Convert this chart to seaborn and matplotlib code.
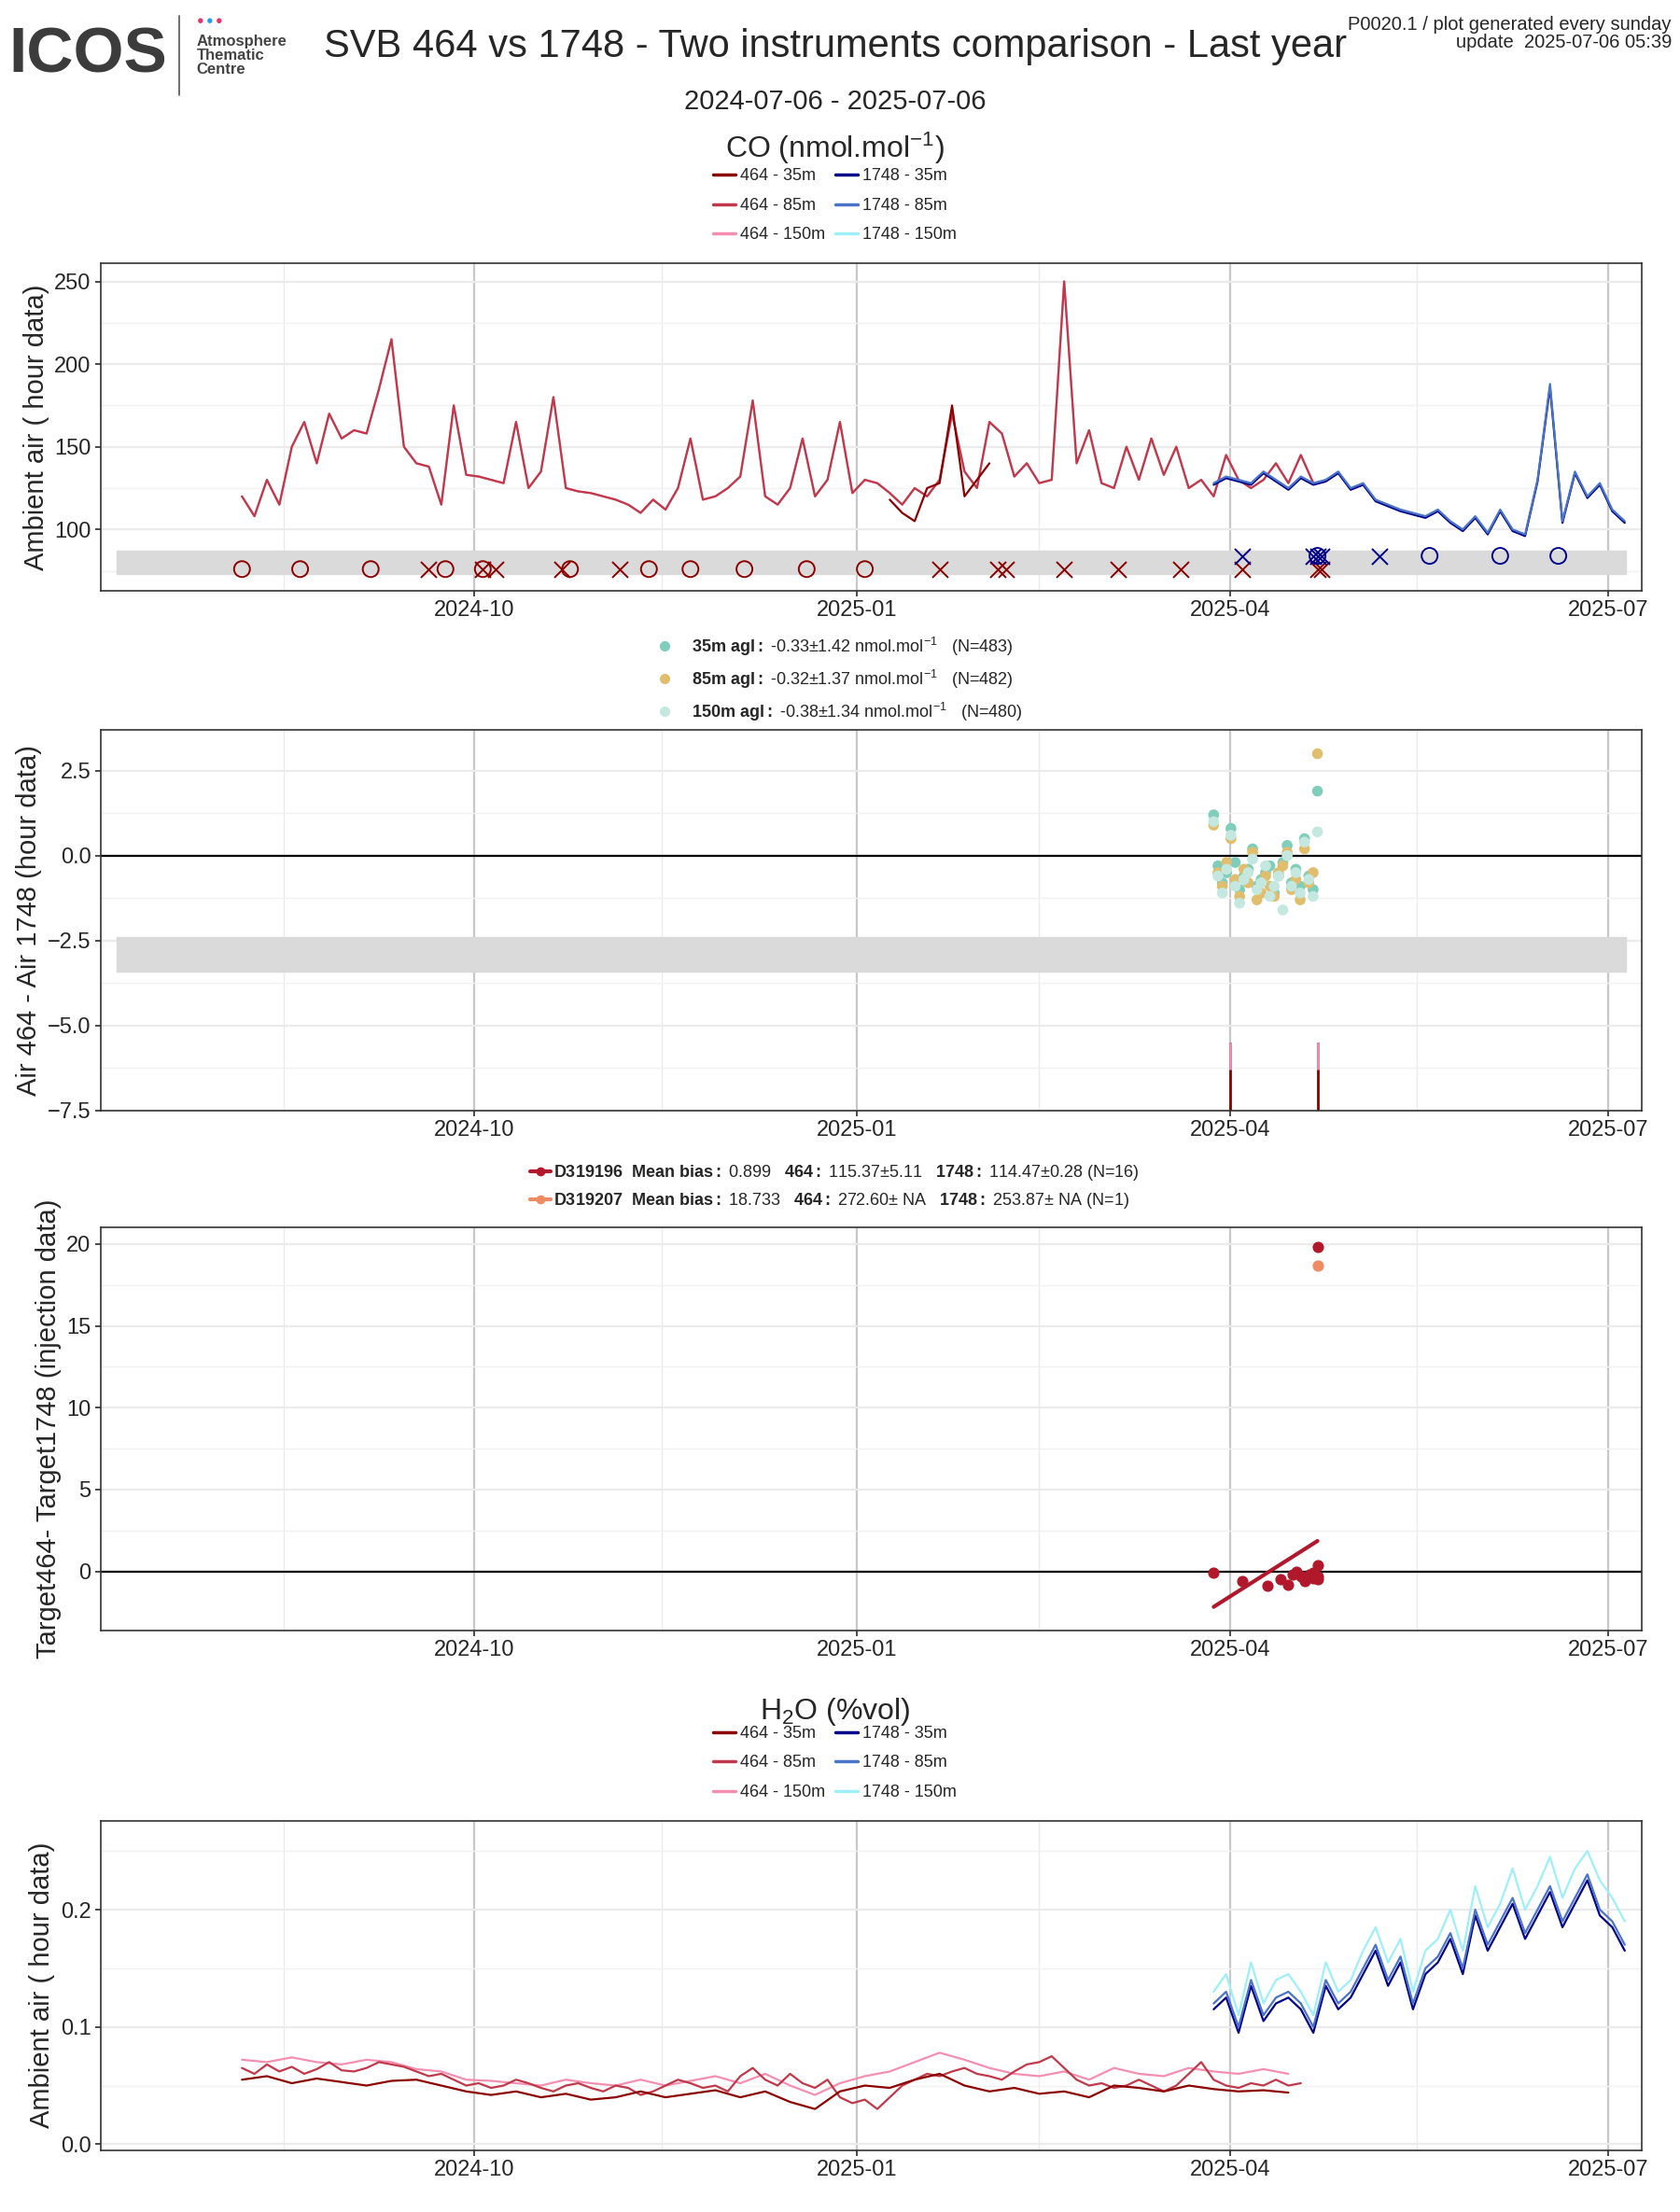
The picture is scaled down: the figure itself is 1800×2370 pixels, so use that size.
import matplotlib
matplotlib.use("Agg")
import matplotlib.pyplot as plt
import matplotlib.dates as mdates
from matplotlib.lines import Line2D
import seaborn as sns
import pandas as pd
import numpy as np

sns.set_theme(style="whitegrid")
plt.rcParams['font.family'] = ['Liberation Sans', 'DejaVu Sans']
plt.rcParams['mathtext.fontset'] = 'custom'
plt.rcParams['mathtext.rm'] = 'Liberation Sans'
plt.rcParams['mathtext.it'] = 'Liberation Sans:italic'
plt.rcParams['mathtext.bf'] = 'Liberation Sans:bold'

# ---------------- data ----------------
co_464_85 = [120, 108, 130, 115, 150, 165, 140, 170, 155, 160, 158, 185, 215, 150, 140, 138, 115, 175, 133,
             132, 130, 128, 165, 125, 135, 180, 125, 123, 122, 120, 118, 115, 110, 118, 112, 125, 155, 118,
             120, 125, 132, 178, 120, 115, 125, 155, 120, 130, 165, 122, 130, 128, 122, 115, 125, 120, 130,
             170, 135, 125, 165, 158, 132, 140, 128, 130, 250, 140, 160, 128, 125, 150, 130, 155, 133, 150,
             125, 130, 120, 145, 130, 125, 130, 140, 128, 145, 128]
co_464_35 = [118, 110, 105, 125, 128, 175, 120, 130, 140]
co_1748_85 = [128, 132, 130, 128, 135, 130, 125, 132, 128, 130, 135, 125, 128, 118, 115, 112, 110, 108, 112,
              105, 100, 108, 98, 112, 100, 97, 130, 188, 105, 135, 120, 128, 112, 105]
co_1748_35 = [127, 131, 129, 127, 134, 129, 124, 131, 127, 129, 134, 124, 127, 117, 114, 111, 109, 107, 111,
              104, 99, 107, 97, 111, 99, 96, 129, 186, 104, 134, 119, 127, 111, 104]

flag_464_circle = ['2024-08-06', '2024-08-20', '2024-09-06', '2024-09-24', '2024-10-03', '2024-10-24',
                   '2024-11-12', '2024-11-22', '2024-12-05', '2024-12-20', '2025-01-03']
flag_464_cross = ['2024-09-20', '2024-10-03', '2024-10-06', '2024-10-22', '2024-11-05', '2025-01-21',
                  '2025-02-04', '2025-02-06', '2025-02-20', '2025-03-05', '2025-03-20', '2025-04-04',
                  '2025-04-22', '2025-04-23']
flag_1748_cross = ['2025-04-04', '2025-04-21', '2025-04-22', '2025-04-23', '2025-05-07']
flag_1748_circle = ['2025-04-22', '2025-05-19', '2025-06-05', '2025-06-19']

diff_35 = [1.2, -0.3, -0.8, -0.5, 0.8, -0.2, -1.0, -0.6, -0.4, 0.2, -0.9, -0.7, -0.5, -0.3, -1.1,
           -0.6, -0.2, 0.3, -0.8, -0.4, -0.9, 0.5, -0.6, -1.0, 1.9]
diff_85 = [0.9, -0.5, -0.9, -0.2, 0.5, -0.7, -1.2, -0.4, -0.8, 0.1, -1.3, -1.1, -0.6, -0.9, -1.2,
           -0.5, -0.3, 0.1, -1.0, -0.7, -1.3, 0.2, -0.8, -0.5, 3.0]
diff_150 = [1.0, -0.6, -1.1, -0.4, 0.6, -0.9, -1.4, -0.7, -0.5, -0.1, -1.0, -0.8, -0.3, -1.2, -0.9,
            -0.6, -1.6, 0.0, -0.9, -0.5, -1.1, 0.4, -0.7, -1.2, 0.7]
flag_diff_dates = ['2025-04-01', '2025-04-22']

tgt_dates = ['2025-03-28', '2025-04-04', '2025-04-10', '2025-04-13', '2025-04-15', '2025-04-16',
             '2025-04-17', '2025-04-18', '2025-04-19', '2025-04-20', '2025-04-21', '2025-04-21',
             '2025-04-22', '2025-04-22', '2025-04-22', '2025-04-22']
tgt_196 = [-0.1, -0.6, -0.9, -0.5, -0.8, -0.2, 0.0, -0.3, -0.6, -0.2, -0.4, -0.1, -0.3, -0.5, 0.4, 19.8]
tgt_207_dates = ['2025-04-22']
tgt_207 = [18.7]

h2o_464_85 = [0.065, 0.06, 0.068, 0.062, 0.066, 0.06, 0.064, 0.07, 0.063, 0.062, 0.065, 0.07, 0.068, 0.066,
              0.062, 0.058, 0.06, 0.055, 0.05, 0.052, 0.048, 0.05, 0.055, 0.052, 0.048, 0.045, 0.05, 0.052,
              0.048, 0.045, 0.05, 0.048, 0.042, 0.045, 0.05, 0.055, 0.052, 0.048, 0.05, 0.045, 0.058, 0.065,
              0.055, 0.05, 0.06, 0.052, 0.048, 0.055, 0.04, 0.035, 0.038, 0.03, 0.04, 0.05, 0.055, 0.06,
              0.058, 0.062, 0.065, 0.06, 0.058, 0.055, 0.062, 0.068, 0.07, 0.075, 0.065, 0.055, 0.05, 0.052,
              0.048, 0.05, 0.055, 0.05, 0.045, 0.05, 0.06, 0.07, 0.055, 0.05, 0.048, 0.052, 0.05, 0.055,
              0.05, 0.052]
h2o_464_35 = [0.055, 0.058, 0.052, 0.056, 0.053, 0.05, 0.054, 0.055, 0.05, 0.045, 0.042, 0.045, 0.04, 0.043,
              0.038, 0.04, 0.045, 0.04, 0.043, 0.046, 0.04, 0.045, 0.036, 0.03, 0.045, 0.05, 0.048, 0.055,
              0.06, 0.05, 0.045, 0.048, 0.043, 0.045, 0.04, 0.05, 0.048, 0.045, 0.05, 0.047, 0.045, 0.046, 0.044]
h2o_464_150 = [0.072, 0.07, 0.074, 0.07, 0.068, 0.072, 0.07, 0.064, 0.062, 0.055, 0.054, 0.052, 0.05, 0.055,
               0.052, 0.05, 0.055, 0.05, 0.054, 0.058, 0.052, 0.06, 0.05, 0.042, 0.052, 0.058, 0.062, 0.07,
               0.078, 0.072, 0.065, 0.06, 0.058, 0.062, 0.055, 0.065, 0.06, 0.058, 0.065, 0.062, 0.06, 0.064, 0.06]
h2o_1748_85 = [0.12, 0.13, 0.1, 0.14, 0.11, 0.125, 0.13, 0.12, 0.1, 0.14, 0.12, 0.13, 0.15, 0.17, 0.14, 0.16,
               0.12, 0.15, 0.16, 0.18, 0.15, 0.2, 0.17, 0.19, 0.21, 0.18, 0.2, 0.22, 0.19, 0.21, 0.23, 0.2,
               0.19, 0.17]
h2o_1748_35 = [0.115, 0.125, 0.095, 0.135, 0.105, 0.12, 0.125, 0.115, 0.095, 0.135, 0.115, 0.125, 0.145,
               0.165, 0.135, 0.155, 0.115, 0.145, 0.155, 0.175, 0.145, 0.195, 0.165, 0.185, 0.205, 0.175,
               0.195, 0.215, 0.185, 0.205, 0.225, 0.195, 0.185, 0.165]
h2o_1748_150 = [0.13, 0.145, 0.11, 0.155, 0.12, 0.14, 0.145, 0.13, 0.11, 0.155, 0.13, 0.14, 0.165, 0.185,
                0.155, 0.175, 0.13, 0.165, 0.175, 0.2, 0.165, 0.22, 0.185, 0.205, 0.235, 0.2, 0.22, 0.245,
                0.21, 0.235, 0.25, 0.225, 0.21, 0.19]

C464 = ['#8B0000', '#C0394B', '#F48FB1']
C1748 = ['#00008B', '#4A74C8', '#9EEFFA']
CD = ['#7FCDBB', '#E0BE6E', '#C4E8DF']

def dr(start, n, freq='3D'):
    return pd.date_range(start, periods=n, freq=freq)

# ---------------- figure ----------------
fig = plt.figure(figsize=(18, 23.7), dpi=100)
L, R = 0.06, 0.977
axes = [fig.add_axes([L, b, R - L, t - b]) for b, t in
        [(0.733, 0.881), (0.498, 0.670), (0.263, 0.445), (0.028, 0.177)]]
xmin, xmax = pd.Timestamp('2024-07-03'), pd.Timestamp('2025-07-09')
majors = pd.to_datetime(['2024-10-01', '2025-01-01', '2025-04-01', '2025-07-01'])
minors = pd.to_datetime(['2024-08-16', '2024-11-15', '2025-02-14', '2025-05-16'])

def style(ax):
    ax.set_facecolor('white')
    ax.set_xlim(xmin, xmax)
    ax.set_xticks(majors)
    ax.xaxis.set_major_formatter(mdates.DateFormatter('%Y-%m'))
    ax.set_xticks(minors, minor=True)
    ax.grid(True, which='major', axis='x', color='#C8C8C8', lw=1.6)
    ax.grid(True, which='minor', axis='x', color='#EBEBEB', lw=1.0)
    ax.grid(True, which='major', axis='y', color='#EBEBEB', lw=1.6)
    ax.grid(True, which='minor', axis='y', color='#F2F2F2', lw=1.0)
    for s in ax.spines.values():
        s.set_color('#333333'); s.set_linewidth(1.2)
    ax.tick_params(axis='both', labelsize=17, length=4, color='#333333', bottom=True, left=True)
    ax.set_xlabel('')

# Panel 1: CO
ax = axes[0]
ax.axhspan(73, 87, xmin=0.01, xmax=0.99, color='#DADADA', zorder=1)
sns.lineplot(x=dr('2024-08-06', len(co_464_85)), y=co_464_85, color=C464[2], lw=1.6, ax=ax)
sns.lineplot(x=dr('2024-08-06', len(co_464_85)), y=co_464_85, color=C464[1], lw=1.6, ax=ax)
sns.lineplot(x=dr('2025-01-09', len(co_464_35)), y=co_464_35, color=C464[0], lw=1.6, ax=ax)
sns.lineplot(x=dr('2025-03-28', len(co_1748_35)), y=co_1748_35, color=C1748[0], lw=1.6, ax=ax)
sns.lineplot(x=dr('2025-03-28', len(co_1748_85)), y=co_1748_85, color=C1748[1], lw=1.6, ax=ax)
ax.scatter(pd.to_datetime(flag_464_circle), [76] * len(flag_464_circle), marker='o', s=150,
           facecolors='none', edgecolors=C464[0], lw=1.4, zorder=5)
ax.scatter(pd.to_datetime(flag_464_cross), [76] * len(flag_464_cross), marker='x', s=150,
           color=C464[0], lw=1.4, zorder=5)
ax.scatter(pd.to_datetime(flag_1748_cross), [84] * len(flag_1748_cross), marker='x', s=150,
           color=C1748[0], lw=1.4, zorder=5)
ax.scatter(pd.to_datetime(flag_1748_circle), [84] * len(flag_1748_circle), marker='o', s=150,
           facecolors='none', edgecolors=C1748[0], lw=1.4, zorder=5)
ax.set_ylim(63, 261)
ax.set_yticks([100, 150, 200, 250]); ax.set_yticks([75, 125, 175, 225], minor=True)
style(ax)
ax.set_ylabel('Ambient air ( hour data)', fontsize=21)

# Panel 2: differences
ax = axes[1]
ax.axhspan(-3.4, -2.4, xmin=0.01, xmax=0.99, color='#DADADA', zorder=1)
ax.axhline(0, color='black', lw=1.6, zorder=2)
for vals, c in [(diff_35, CD[0]), (diff_85, CD[1]), (diff_150, CD[2])]:
    d = pd.date_range('2025-03-28', '2025-04-22', periods=len(vals))
    sns.scatterplot(x=d, y=vals, color=c, s=70, edgecolor='none', ax=ax, zorder=4)
ax.vlines(pd.to_datetime(flag_diff_dates), -7.5, -5.5, color=C464[0], lw=2)
ax.vlines(pd.to_datetime(flag_diff_dates), -6.3, -5.5, color=C464[2], lw=2)
ax.set_ylim(-7.5, 3.7)
ax.set_yticks([2.5, 0.0, -2.5, -5.0, -7.5]); ax.set_yticks([1.25, -1.25, -3.75, -6.25], minor=True)
style(ax)
ax.set_ylabel('Air 464 - Air 1748 (hour data)', fontsize=21)

# Panel 3: target
ax = axes[2]
ax.axhline(0, color='black', lw=1.6, zorder=2)
df_t = pd.DataFrame({'d': mdates.date2num(pd.to_datetime(tgt_dates)), 'v': tgt_196})
sns.regplot(data=df_t, x='d', y='v', ci=None, color='#B2182B', scatter_kws={'s': 60, 'zorder': 5, 'alpha': 1},
            line_kws={'lw': 3}, truncate=True, ax=ax)
ax.scatter(mdates.date2num(pd.to_datetime(tgt_207_dates)), tgt_207, color='#EF8A62', s=60, zorder=5)
ax.set_ylim(-3.6, 21)
ax.set_yticks([0, 5, 10, 15, 20]); ax.set_yticks([2.5, 7.5, 12.5, 17.5], minor=True)
style(ax)
ax.set_ylabel('Target464- Target1748 (injection data)', fontsize=21)

# Panel 4: H2O
ax = axes[3]
sns.lineplot(x=dr('2024-08-06', len(h2o_464_150), '6D'), y=h2o_464_150, color=C464[2], lw=1.6, ax=ax)
sns.lineplot(x=dr('2024-08-06', len(h2o_464_85)), y=h2o_464_85, color=C464[1], lw=1.6, ax=ax)
sns.lineplot(x=dr('2024-08-06', len(h2o_464_35), '6D'), y=h2o_464_35, color=C464[0], lw=1.6, ax=ax)
sns.lineplot(x=dr('2025-03-28', len(h2o_1748_150)), y=h2o_1748_150, color=C1748[2], lw=1.6, ax=ax)
sns.lineplot(x=dr('2025-03-28', len(h2o_1748_35)), y=h2o_1748_35, color=C1748[0], lw=1.6, ax=ax)
sns.lineplot(x=dr('2025-03-28', len(h2o_1748_85)), y=h2o_1748_85, color=C1748[1], lw=1.6, ax=ax)
ax.set_ylim(-0.005, 0.276)
ax.set_yticks([0.0, 0.1, 0.2]); ax.set_yticks([0.05, 0.15, 0.25], minor=True)
style(ax)
ax.set_ylabel('Ambient air ( hour data)', fontsize=21)

# ---------------- titles / header ----------------
fig.text(0.005, 0.975, 'ICOS', fontsize=50, fontweight='bold', color='#3C3C3C', va='center', ha='left')
fig.add_artist(Line2D([0.1065, 0.1065], [0.957, 0.993], color='#555555', lw=1.2))
for i, c in enumerate(['#E8336D', '#2F9BE8', '#E8336D']):
    fig.text(0.117 + i * 0.0055, 0.9905, '●', color=c, fontsize=9, ha='left', va='center')
fig.text(0.117, 0.975, 'Atmosphere\nThematic\nCentre', fontsize=12, fontweight='bold', color='#444444',
         va='center', ha='left', linespacing=1.0)
fig.text(0.497, 0.979, 'SVB 464 vs 1748 - Two instruments comparison - Last year', fontsize=30,
         ha='center', va='center')
fig.text(0.497, 0.954, '2024-07-06 - 2025-07-06', fontsize=21, ha='center', va='center')
fig.text(0.995, 0.993, 'P0020.1 / plot generated every sunday\nupdate  2025-07-06 05:39', fontsize=14.5,
         ha='right', va='top', linespacing=1.0)
fig.text(0.497, 0.933, r'CO (nmol.mol$^{-1}$)', fontsize=23, ha='center', va='center')
fig.text(0.497, 0.226, r'H$_2$O (%vol)', fontsize=23, ha='center', va='center')

def line_legend(y):
    h = [Line2D([], [], color=c, lw=2.5) for c in C464 + C1748]
    lab = ['464 - 35m', '464 - 85m', '464 - 150m', '1748 - 35m', '1748 - 85m', '1748 - 150m']
    fig.legend(h, lab, loc='center', bbox_to_anchor=(0.497, y), ncol=2, frameon=False, fontsize=13,
               handlelength=1.3, handletextpad=0.3, columnspacing=0.6, labelspacing=0.8)

line_legend(0.907)
line_legend(0.203)

h2 = [Line2D([], [], marker='o', color=c, ls='', ms=7) for c in CD]
lab2 = [r'$\bf{35m\ agl:}$ -0.33$\pm$1.42 nmol.mol$^{-1}$   (N=483)',
        r'$\bf{85m\ agl:}$ -0.32$\pm$1.37 nmol.mol$^{-1}$   (N=482)',
        r'$\bf{150m\ agl:}$ -0.38$\pm$1.34 nmol.mol$^{-1}$   (N=480)']
fig.legend(h2, lab2, loc='center', bbox_to_anchor=(0.497, 0.693), ncol=1, frameon=False, fontsize=13,
           handletextpad=0.6, labelspacing=0.6)

h3 = [Line2D([], [], marker='o', color=c, lw=3, ms=6) for c in ['#B2182B', '#EF8A62']]
lab3 = [r'$\bf{D319196\ \ Mean\ bias:}$ 0.899   $\bf{464:}$ 115.37$\pm$5.11   $\bf{1748:}$ 114.47$\pm$0.28 (N=16)',
        r'$\bf{D319207\ \ Mean\ bias:}$ 18.733   $\bf{464:}$ 272.60$\pm$ NA   $\bf{1748:}$ 253.87$\pm$ NA (N=1)']
fig.legend(h3, lab3, loc='center', bbox_to_anchor=(0.497, 0.4635), ncol=1, frameon=False, fontsize=13,
           handlelength=1.2, handletextpad=0.2, labelspacing=0.5)

fig.savefig('out.png', dpi=100, facecolor='white')
